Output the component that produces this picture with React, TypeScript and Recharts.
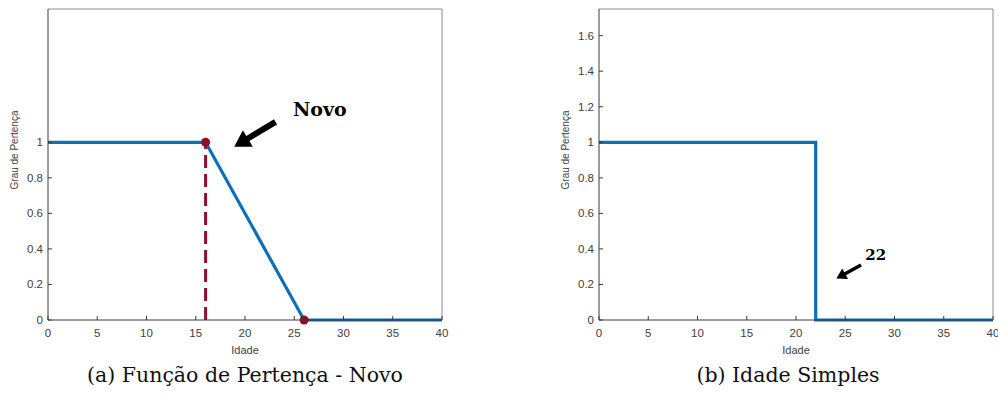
import React from 'react';
import {
  ComposedChart,
  Line,
  Scatter,
  XAxis,
  YAxis,
  ReferenceLine,
  ReferenceDot,
} from 'recharts';

// eixos
const idadeTicks = [0, 5, 10, 15, 20, 25, 30, 35, 40];
const grauTicksNovo = [0, 0.2, 0.4, 0.6, 0.8, 1];
const grauTicksTodos = [0, 0.2, 0.4, 0.6, 0.8, 1, 1.2, 1.4, 1.6];

// (a) função de pertença - novo
const novoIdade = [0, 16, 26, 40];
const novoGrau = [1, 1, 0, 0];
const corteIdade = [16, 16];
const corteGrau = [0, 1];
const pontosIdade = [16, 26];
const pontosGrau = [1, 0];
const setaNovo = [{ x: 23.1, y: 1.115 }, { x: 18.9, y: 0.975 }];
const textoNovo = { x: 27.6, y: 1.19, label: 'Novo' };

// (b) idade simples
const simplesIdade = [0, 22, 22, 40];
const simplesGrau = [1, 1, 0, 0];
const seta22 = [{ x: 26.6, y: 0.31 }, { x: 24.1, y: 0.233 }];
const texto22 = { x: 28.1, y: 0.365, label: '22' };

const toRows = (xs: number[], ys: number[]) => xs.map((idade, i) => ({ idade, grau: ys[i] }));

const AXIS = '#3a3a3a';
const BLUE = '#0a70b8';
const RED = '#8a1128';
const FONT = '"Liberation Sans", Arial, sans-serif';
const SERIF = '"DejaVu Serif", "Liberation Serif", serif';

const W = 458;
const H = 370;

const BottomTick = (props: any) => {
  const { x, y, payload } = props;
  return (
    <g>
      <line x1={x} y1={y} x2={x} y2={y - 4} stroke={AXIS} />
      <text x={x} y={y + 17} textAnchor="middle" fontSize={11.5} fill="#404040" fontFamily={FONT}>
        {payload.value}
      </text>
    </g>
  );
};

const TopTick = (props: any) => {
  const { x, y } = props;
  return <line x1={x} y1={y} x2={x} y2={y + 4} stroke={AXIS} />;
};

const LeftTick = (props: any) => {
  const { x, y, payload } = props;
  return (
    <g>
      <line x1={x} y1={y} x2={x + 4} y2={y} stroke={AXIS} />
      <text x={x - 5} y={y + 4} textAnchor="end" fontSize={11.5} fill="#404040" fontFamily={FONT}>
        {payload.value}
      </text>
    </g>
  );
};

const RightTick = (props: any) => {
  const { x, y } = props;
  return <line x1={x} y1={y} x2={x - 4} y2={y} stroke={AXIS} />;
};

const arrowShape = (shaft: number, head: number) => (props: any) => {
  const { x1, y1, x2, y2 } = props;
  const dx = x2 - x1;
  const dy = y2 - y1;
  const len = Math.sqrt(dx * dx + dy * dy);
  const ux = dx / len;
  const uy = dy / len;
  const nx = -uy;
  const ny = ux;
  const bx = x2 - ux * head;
  const by = y2 - uy * head;
  const pts = [
    [x1 + nx * shaft / 2, y1 + ny * shaft / 2],
    [bx + nx * shaft / 2, by + ny * shaft / 2],
    [bx + nx * head * 0.6, by + ny * head * 0.6],
    [x2, y2],
    [bx - nx * head * 0.6, by - ny * head * 0.6],
    [bx - nx * shaft / 2, by - ny * shaft / 2],
    [x1 - nx * shaft / 2, y1 - ny * shaft / 2],
  ];
  return <polygon points={pts.map((p) => p.join(',')).join(' ')} fill="#000" />;
};

const textShape = (label: string, size: number) => (props: any) => (
  <text
    x={props.cx}
    y={props.cy}
    textAnchor="middle"
    dominantBaseline="central"
    fontSize={size}
    fontWeight="bold"
    fontFamily={SERIF}
    fill="#000"
  >
    {label}
  </text>
);

const yLabel = (props: any) => {
  const { viewBox } = props;
  const cx = viewBox.x + viewBox.width - 35;
  const cy = 150;
  return (
    <text
      x={cx}
      y={cy}
      transform={`rotate(-90 ${cx} ${cy})`}
      textAnchor="middle"
      dominantBaseline="central"
      fontSize={10}
      fill="#404040"
      fontFamily={FONT}
    >
      Grau de Pertença
    </text>
  );
};

const xLabel = (props: any) => {
  const { viewBox } = props;
  return (
    <text
      x={viewBox.x + viewBox.width / 2}
      y={viewBox.y + 35}
      textAnchor="middle"
      fontSize={11}
      fill="#404040"
      fontFamily={FONT}
    >
      Idade
    </text>
  );
};

interface PanelProps {
  left: number;
  right: number;
  leftTicks: number[];
  children: React.ReactNode;
}

// eixos espelhados não ocupam espaço: a margem é a própria área do gráfico
const Panel: React.FC<PanelProps> = ({ left, right, leftTicks, children }) => (
  <ComposedChart
    width={W}
    height={H}
    margin={{ top: 9, right: W - right, bottom: H - 320, left }}
  >
    <XAxis
      xAxisId="bottom"
      dataKey="idade"
      type="number"
      domain={[0, 40]}
      ticks={idadeTicks}
      interval={0}
      height={1}
      tickSize={0}
      tickMargin={0}
      tick={<BottomTick />}
      stroke={AXIS}
      mirror
      label={xLabel}
    />
    <XAxis
      xAxisId="top"
      orientation="top"
      dataKey="idade"
      type="number"
      domain={[0, 40]}
      ticks={idadeTicks.slice(1, -1)}
      interval={0}
      height={1}
      tickSize={0}
      tickMargin={0}
      tick={<TopTick />}
      stroke="#8a8a8a"
      mirror
    />
    <YAxis
      yAxisId="left"
      type="number"
      domain={[0, 1.75]}
      ticks={leftTicks}
      interval={0}
      width={1}
      tickSize={0}
      tickMargin={0}
      tick={<LeftTick />}
      stroke={AXIS}
      mirror
      label={yLabel}
    />
    <YAxis
      yAxisId="right"
      orientation="right"
      type="number"
      domain={[0, 1.75]}
      ticks={grauTicksTodos.slice(1)}
      interval={0}
      width={1}
      tickSize={0}
      tickMargin={0}
      tick={<RightTick />}
      stroke="#8a8a8a"
      mirror
    />
    {children}
  </ComposedChart>
);

const captionStyle: React.CSSProperties = {
  position: 'absolute',
  width: 400,
  top: 363,
  textAlign: 'center',
  fontFamily: SERIF,
  fontSize: 20.5,
  color: '#111',
  whiteSpace: 'nowrap',
};

export default function App() {
  return (
    <div
      style={{
        position: 'absolute',
        left: 0,
        top: 0,
        width: 998,
        height: 405,
        background: '#fff',
        overflow: 'hidden',
      }}
    >
      <div style={{ position: 'absolute', left: 0, top: 0 }}>
        <Panel left={48} right={442} leftTicks={grauTicksNovo}>
          <Line
            xAxisId="bottom"
            yAxisId="left"
            data={toRows(corteIdade, corteGrau)}
            dataKey="grau"
            stroke={RED}
            strokeWidth={3}
            strokeDasharray="13 6"
            dot={false}
            isAnimationActive={false}
          />
          <Line
            xAxisId="bottom"
            yAxisId="left"
            data={toRows(novoIdade, novoGrau)}
            dataKey="grau"
            stroke={BLUE}
            strokeWidth={3.2}
            dot={false}
            isAnimationActive={false}
          />
          <Scatter
            xAxisId="bottom"
            yAxisId="left"
            data={toRows(pontosIdade, pontosGrau)}
            dataKey="grau"
            fill={RED}
            shape={(p: any) => <circle cx={p.cx} cy={p.cy} r={4.5} fill={RED} />}
            isAnimationActive={false}
          />
          <ReferenceLine
            xAxisId="bottom"
            yAxisId="left"
            segment={setaNovo}
            shape={arrowShape(6, 16)}
          />
          <ReferenceDot
            xAxisId="bottom"
            yAxisId="left"
            x={textoNovo.x}
            y={textoNovo.y}
            shape={textShape(textoNovo.label, 19)}
          />
        </Panel>
      </div>
      <div style={{ position: 'absolute', left: 540, top: 0 }}>
        <Panel left={59} right={453} leftTicks={grauTicksTodos}>
          <Line
            xAxisId="bottom"
            yAxisId="left"
            data={toRows(simplesIdade, simplesGrau)}
            dataKey="grau"
            stroke={BLUE}
            strokeWidth={3.2}
            dot={false}
            isAnimationActive={false}
          />
          <ReferenceLine
            xAxisId="bottom"
            yAxisId="left"
            segment={seta22}
            shape={arrowShape(3.5, 10)}
          />
          <ReferenceDot
            xAxisId="bottom"
            yAxisId="left"
            x={texto22.x}
            y={texto22.y}
            shape={textShape(texto22.label, 15)}
          />
        </Panel>
      </div>
      <div style={{ ...captionStyle, left: 45 }}>(a) Função de Pertença - Novo</div>
      <div style={{ ...captionStyle, left: 588 }}>(b) Idade Simples</div>
    </div>
  );
}
